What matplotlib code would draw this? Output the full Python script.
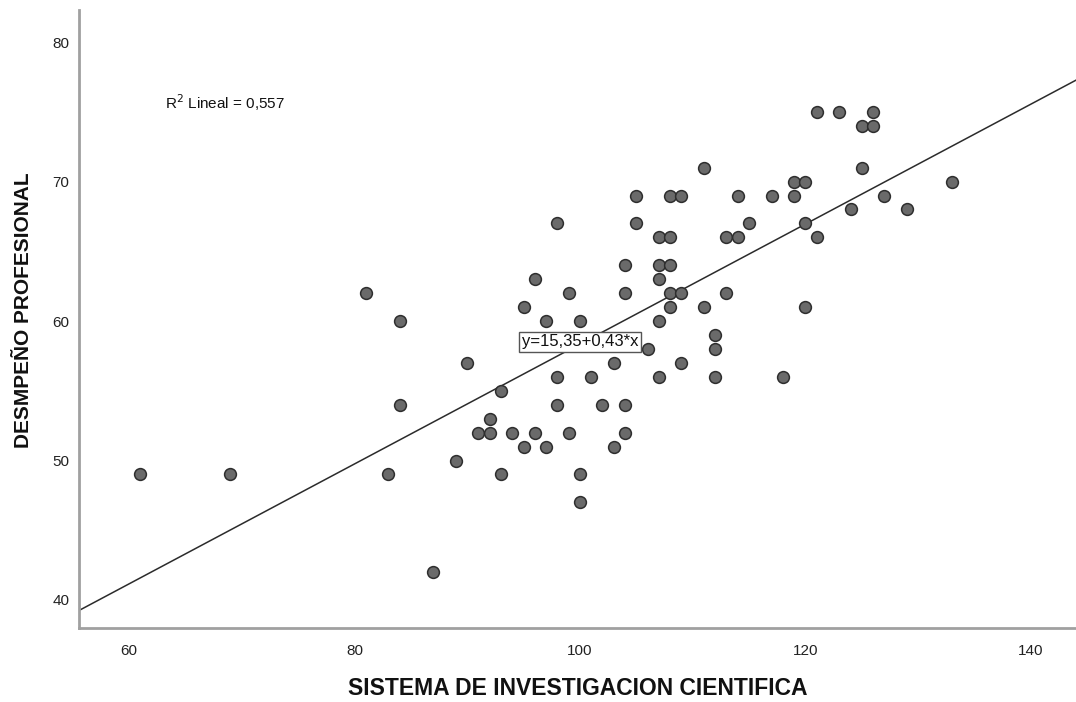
import matplotlib
matplotlib.use("Agg")
import matplotlib.pyplot as plt
import numpy as np

plt.rcParams['font.family'] = ['Liberation Sans', 'DejaVu Sans']

# Data
sistema = [61, 69, 81, 83, 84, 84, 87, 89, 90, 91, 92, 92, 93, 93, 94, 95, 95, 96, 96,
           97, 97, 98, 98, 98, 99, 99, 100, 100, 100, 101, 102, 103, 103, 104, 104, 104,
           104, 105, 105, 106, 107, 107, 107, 107, 107, 108, 108, 108, 108, 108, 109,
           109, 109, 111, 111, 112, 112, 112, 113, 113, 114, 114, 115, 117, 118, 119,
           119, 120, 120, 120, 121, 121, 123, 124, 125, 125, 126, 126, 127, 129, 133]
desempeno = [49, 49, 62, 49, 60, 54, 42, 50, 57, 52, 52, 53, 55, 49, 52, 61, 51, 63, 52,
             60, 51, 67, 56, 54, 62, 52, 60, 49, 47, 56, 54, 57, 51, 64, 62, 54,
             52, 69, 67, 58, 66, 64, 63, 60, 56, 69, 66, 64, 62, 61, 69,
             62, 57, 71, 61, 59, 58, 56, 66, 62, 69, 66, 67, 69, 56, 70,
             69, 70, 67, 61, 75, 66, 75, 68, 74, 71, 75, 74, 69, 68, 70]

intercept = 15.35
slope = 0.43
r2_text = "R$^2$ Lineal = 0,557"
eq_text = "y=15,35+0,43*x"
x_ticks = [60, 80, 100, 120, 140]
y_ticks = [40, 50, 60, 70, 80]
xlabel = "SISTEMA DE INVESTIGACION CIENTIFICA"
ylabel = "DESMPEÑO PROFESIONAL"

fig = plt.figure(figsize=(10.76, 7.02), dpi=100)
ax = fig.add_axes([79.3 / 1076, 1 - 628.3 / 702, 1 - 79.3 / 1076, (628.3 - 10) / 702])

xlim = (55.6, 144.0)
ylim = (37.97, 82.3)

xs = np.array(xlim)
ax.plot(xs, intercept + slope * xs, color='#2b2b2b', lw=1.1, zorder=2)

ax.scatter(sistema, desempeno, s=72, facecolor='#6a6a6a', edgecolor='#2e2e2e',
           linewidths=1.1, zorder=3)

ax.set_xlim(*xlim)
ax.set_ylim(*ylim)
ax.set_xticks(x_ticks)
ax.set_yticks(y_ticks)
ax.tick_params(length=0, labelsize=11, colors='#222222')
ax.tick_params(axis='x', pad=11)
ax.tick_params(axis='y', pad=7)

for side in ['top', 'right']:
    ax.spines[side].set_visible(False)
for side in ['left', 'bottom']:
    ax.spines[side].set_color('#a0a0a0')
    ax.spines[side].set_linewidth(2)

ax.set_xlabel(xlabel, fontsize=16.5, fontweight='bold', labelpad=14, color='#111111')
ax.set_ylabel(ylabel, fontsize=15, fontweight='bold', color='#111111')
ax.yaxis.set_label_coords(-0.046, 0.515)

ax.text(0.086, 0.85, r2_text, transform=ax.transAxes, fontsize=11,
        ha='left', va='center', color='#111111')

ax.text(100.0, 58.5, eq_text, fontsize=12, ha='center', va='center', color='#111111',
        bbox=dict(boxstyle='square,pad=0.15', facecolor='white', edgecolor='#555555', lw=1),
        zorder=4)

fig.savefig('out.png', dpi=100, facecolor='white')
